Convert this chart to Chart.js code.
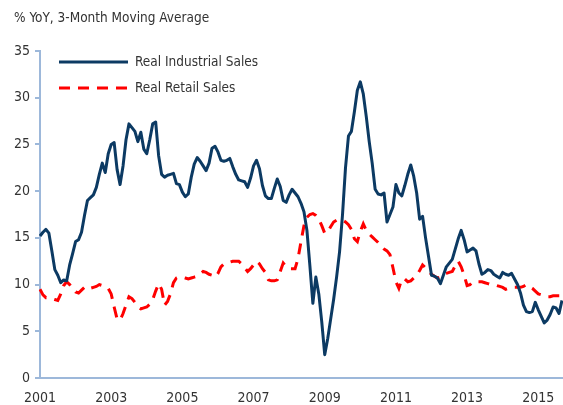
<!DOCTYPE html>
<html>
<head>
<meta charset="utf-8">
<script src="https://cdn.jsdelivr.net/npm/chart.js@4"></script>
<style>
  html, body { margin: 0; padding: 0; background: #fff; }
  #wrap { position: relative; width: 563px; height: 405px; }
</style>
</head>
<body>
<div id="wrap"><canvas id="salesChart" width="563" height="405"></canvas></div>
<script>
// monthly, Jan 2001 .. Sep 2015
const startYear = 2001;
const tickYears = [2001, 2003, 2005, 2007, 2009, 2011, 2013, 2015];

const industrialSales = [
  15.2, 15.6, 15.9, 15.5, 13.6, 11.6, 11.0, 10.2, 10.5, 10.4, 12.1, 13.3,
  14.6, 14.8, 15.6, 17.4, 19.0, 19.3, 19.6, 20.4, 21.8, 23.0, 22.0, 24.0,
  25.0, 25.2, 22.3, 20.7, 22.7, 25.5, 27.2, 26.8, 26.4, 25.3, 26.3, 24.5,
  24.0, 25.5, 27.2, 27.4, 23.8, 21.8, 21.5, 21.7, 21.8, 21.9, 20.8, 20.7,
  19.9, 19.4, 19.7, 21.5, 22.9, 23.6, 23.2, 22.7, 22.2, 23.0, 24.6, 24.8,
  24.2, 23.3, 23.2, 23.3, 23.5, 22.6, 21.8, 21.2, 21.1, 21.0, 20.4, 21.4,
  22.7, 23.3, 22.4, 20.6, 19.5, 19.2, 19.2, 20.3, 21.3, 20.5, 19.0, 18.8,
  19.6, 20.2, 19.8, 19.4, 18.7, 17.8, 15.8, 12.0, 8.0, 10.8, 9.0, 6.0,
  2.5, 4.2, 6.3, 8.4, 10.8, 13.5, 17.5, 22.5, 25.9, 26.4, 28.5, 30.8,
  31.7, 30.4, 28.0, 25.3, 23.0, 20.2, 19.7, 19.6, 19.8, 16.7, 17.5, 18.3,
  20.7, 19.8, 19.5, 20.6, 21.8, 22.8, 21.6, 19.8, 17.0, 17.3, 15.0, 13.0,
  11.0, 10.9, 10.7, 10.1, 11.0, 11.9, 12.3, 12.7, 13.8, 14.9, 15.8, 14.8,
  13.5, 13.7, 13.9, 13.6, 12.2, 11.1, 11.3, 11.6, 11.5, 11.1, 10.9, 10.7,
  11.3, 11.1, 11.0, 11.2, 10.6, 10.0, 9.1, 7.8, 7.1, 7.0, 7.1, 8.1,
  7.3, 6.6, 5.9, 6.2, 6.8, 7.6, 7.5, 6.9, 8.3
];

const retailSales = [
  9.5, 8.9, 8.6, 8.6, 8.5, 8.4, 8.3, 9.0, 9.9, 10.3, 10.0, 9.6,
  9.2, 9.1, 9.4, 9.7, 9.8, 9.6, 9.7, 9.8, 10.0, 9.9, 9.8, 9.6,
  9.0, 7.6, 6.3, 6.2, 6.9, 7.8, 8.7, 8.5, 8.1, 7.6, 7.4, 7.5,
  7.6, 7.9, 8.4, 9.3, 10.1, 9.5, 7.8, 8.2, 9.0, 10.2, 10.7, 10.8,
  10.8, 10.7, 10.6, 10.7, 10.8, 10.9, 11.1, 11.4, 11.3, 11.1, 11.0, 10.8,
  11.2, 11.9, 12.2, 12.3, 12.4, 12.5, 12.5, 12.5, 12.2, 11.8, 11.4, 11.7,
  12.1, 12.5, 12.2, 11.7, 11.3, 10.5, 10.4, 10.4, 10.5, 11.4, 12.3, 11.9,
  11.7, 11.7, 11.7, 12.8, 14.6, 16.3, 17.2, 17.5, 17.6, 17.4, 17.0, 16.3,
  15.5, 15.6, 16.2, 16.7, 16.9, 16.9, 16.9, 16.7, 16.4, 15.9, 14.9, 14.6,
  15.7, 16.5, 15.8, 15.4, 15.1, 14.8, 14.5, 14.1, 13.8, 13.6, 13.2, 11.8,
  10.3, 9.6, 10.6, 10.6, 10.3, 10.4, 10.7, 11.0, 11.5, 12.1, 11.8, 11.4,
  11.1, 10.9, 10.7, 10.8, 11.1, 11.2, 11.3, 11.4, 12.0, 12.5, 11.9, 11.0,
  9.9, 10.0, 10.3, 10.3, 10.3, 10.3, 10.2, 10.1, 10.0, 10.0, 9.9, 9.8,
  9.7, 9.5, 9.6, 9.7, 9.7, 9.7, 9.7, 9.8, 10.0, 9.8, 9.6, 9.3,
  9.0, 8.9, 8.8, 8.7, 8.7, 8.8, 8.8, 8.8, 8.8
];

const monthLabels = [];
for (let i = 0; i < industrialSales.length; i++) {
  const y = startYear + Math.floor(i / 12);
  const m = (i % 12) + 1;
  monthLabels.push(y + '-' + (m < 10 ? '0' + m : m));
}

const fontFamily = '"Liberation Sans Narrow", "DejaVu Sans Condensed", "Roboto", sans-serif';
const axisColor = '#9db8da';
const textColor = '#333333';

// title + legend drawn in canvas, top left like the original
const headerPlugin = {
  id: 'header',
  afterDraw(chart) {
    const ctx = chart.ctx;
    ctx.save();
    ctx.fillStyle = textColor;
    ctx.textBaseline = 'middle';
    ctx.font = '13.5px ' + fontFamily;
    ctx.fillText('% YoY, 3-Month Moving Average', 14, 18);

    const rows = [62, 88];
    chart.data.datasets.forEach((ds, k) => {
      const y = rows[k];
      ctx.beginPath();
      ctx.strokeStyle = ds.borderColor;
      ctx.lineWidth = ds.borderWidth;
      ctx.setLineDash(ds.borderDash || []);
      ctx.moveTo(59, y);
      ctx.lineTo(128, y);
      ctx.stroke();
      ctx.setLineDash([]);
      ctx.fillStyle = textColor;
      ctx.font = '13.5px ' + fontFamily;
      ctx.fillText(ds.label, 135, y);
    });
    ctx.restore();
  }
};

new Chart(document.getElementById('salesChart'), {
  type: 'line',
  data: {
    labels: monthLabels,
    datasets: [
      {
        label: 'Real Industrial Sales',
        data: industrialSales,
        borderColor: '#0c3a63',
        borderWidth: 3,
        pointRadius: 0,
        tension: 0,
        borderJoinStyle: 'round'
      },
      {
        label: 'Real Retail Sales',
        data: retailSales,
        borderColor: '#ff0000',
        borderWidth: 3,
        borderDash: [11, 8],
        pointRadius: 0,
        tension: 0
      }
    ]
  },
  options: {
    responsive: false,
    animation: false,
    layout: { padding: { left: 0, top: 51, right: 1, bottom: 0 } },
    plugins: {
      legend: { display: false },
      tooltip: { enabled: false }
    },
    scales: {
      x: {
        type: 'category',
        afterFit(scale) {
          scale.height = 27;
          scale.paddingLeft = 0;
          scale.paddingRight = 0;
        },
        border: { display: true, color: axisColor, width: 2 },
        grid: { display: true, drawOnChartArea: false, drawTicks: false },
        ticks: {
          autoSkip: false,
          maxRotation: 0,
          padding: 12,
          color: textColor,
          font: { family: fontFamily, size: 14 },
          callback(val, idx) {
            const lab = monthLabels[idx];
            const yr = parseInt(lab.slice(0, 4), 10);
            if (lab.slice(5) === '01' && tickYears.includes(yr)) return String(yr);
            return '';
          }
        }
      },
      y: {
        min: 0,
        max: 35,
        afterFit(scale) { scale.width = 40; },
        border: { display: true, color: axisColor, width: 2 },
        grid: { display: true, drawOnChartArea: false, drawTicks: true, tickLength: 5, color: axisColor, lineWidth: 2 },
        ticks: {
          stepSize: 5,
          padding: 5,
          color: textColor,
          font: { family: fontFamily, size: 14 }
        }
      }
    }
  },
  plugins: [headerPlugin]
});
</script>
</body>
</html>
